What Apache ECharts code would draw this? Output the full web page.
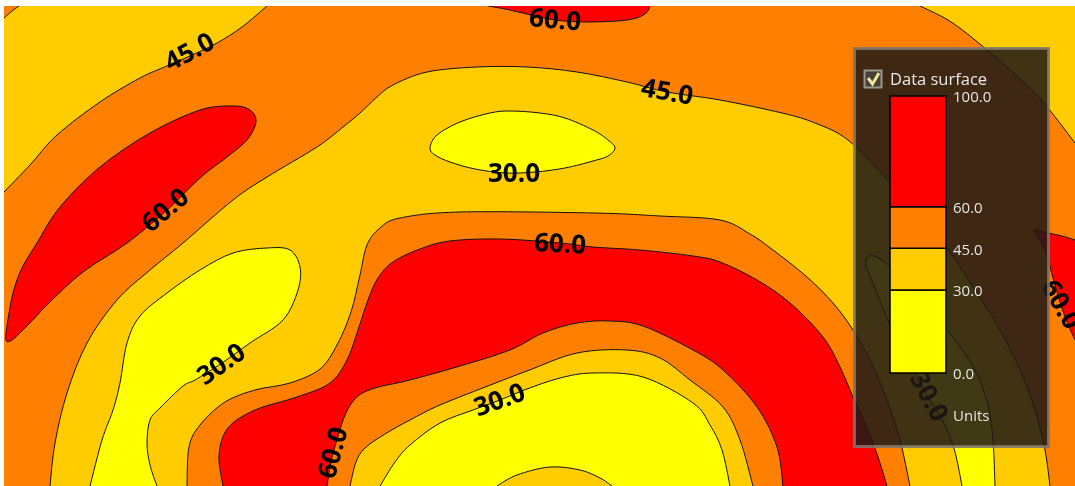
<!DOCTYPE html>
<html><head><meta charset="utf-8">
<script src="https://cdn.jsdelivr.net/npm/echarts@6/dist/echarts.min.js"></script>
<style>html,body{margin:0;padding:0;background:#fff}#c{width:1075px;height:486px}</style>
</head><body><div id="c"></div>
<script>
// ---- contour levels and band colours ----
const levels = [0, 30, 45, 60, 100];
const bandColors = ['#FFFF00', '#FFCC00', '#FF8000', '#FF0000'];
const legendTicks = [0, 30, 45, 60, 100];

// ---- contour lines (x, y in plot units) ----
const cCorner = [[4,18],[12,11],[19,6]];
const cA = [[4,192],[30,165],[57,135],[100,102],[140,78],[167,66],[192,55],[217,43],[242,27],[267,6]];
const cB = [[50,486],[55,443],[67,393],[87,343],[117,300],[150,270],[183,243],[233,200],[267,177],[317,147],[343,127],[360,113],[377,97],[393,85],[427,72],[477,67],[527,67],[577,72],[627,82],[667,92],[720,100],[782,113],[815,123],[848,140],[888,180],[915,208],[945,245],[975,290],[1000,330],[1020,370],[1035,410],[1045,450],[1050,486]];
const cD = [[920,6],[948,20],[975,40],[1010,70],[1035,93],[1052,113],[1075,143]];
const cR1 = [[6,340],[7,326],[13,293],[22,268],[37,243],[60,207],[100,167],[150,133],[200,110],[233,106],[250,110],[256,122],[247,140],[227,157],[200,178],[166,211],[127,243],[83,272],[50,302],[27,326],[12,340]];
const cR2 = [[488,6],[505,9],[527,14],[555,20],[587,22],[627,20],[645,14],[650,6]];
const cR3 = [[1075,240],[1062,236],[1048,233],[1034,230],[1040,240],[1047,256],[1053,278],[1060,302],[1067,322],[1075,340]];
const cC = [[187,486],[189,447],[200,425],[225,402],[255,390],[290,383],[320,369],[337,345],[351,312],[360,275],[367,245],[380,228],[400,218],[460,212],[593,213],[660,216],[720,220],[750,234],[773,250],[807,277],[833,303],[853,330],[870,360],[887,400],[900,440],[910,486]];
const cE = [[223,486],[219,455],[228,428],[255,410],[297,397],[330,383],[347,360],[358,330],[368,300],[378,278],[393,262],[420,249],[450,241],[500,239],[560,243],[593,247],[640,250],[693,256],[720,262],[757,280],[790,303],[823,337],[840,367],[853,397],[868,430],[879,460],[887,486]];
const cF = [[327,486],[331,462],[338,436],[346,413],[357,397],[375,388],[410,380],[460,366],[510,350],[543,333],[577,323],[610,321],[643,326],[693,350],[723,370],[757,407],[777,447],[783,486]];
const cG = [[350,486],[356,462],[365,448],[385,434],[410,420],[440,405],[493,384],[527,371],[577,353],[627,350],[660,358],[690,380],[723,407],[740,440],[753,486]];
const cH = [[380,486],[395,462],[410,445],[440,423],[473,410],[500,400],[527,389],[560,378],[593,373],[643,377],[693,403],[710,425],[722,450],[730,486]];
const cI = [[497,486],[517,475],[550,467],[580,470],[600,478],[612,486]];
const cY1 = [[90,486],[102,440],[113,410],[120,383],[127,343],[140,316],[167,293],[200,270],[233,253],[267,248],[290,250],[300,267],[298,290],[283,320],[250,343],[222,363],[195,380],[183,386],[160,408],[150,420],[147,443],[150,465],[157,486]];
const cY2 = [[430,148],[437,135],[460,122],[490,113],[510,111],[540,113],[565,118],[593,130],[608,140],[615,148],[608,156],[593,161],[565,168],[535,172],[505,173],[475,169],[450,162],[435,155]];
const cY3 = [[962,486],[955,452],[945,425],[930,400],[910,365],[890,325],[875,288],[866,265],[870,256],[882,260],[903,280],[928,307],[955,340],[975,370],[988,405],[993,440],[995,486]];

// contour label anchors, angles and texts
const labelAnchors = [[190,53],[166,211],[555,21],[667,93],[514,175],[560,245],[222,365],[500,401],[334,453],[1060,305],[928,397]];
const labelAngles  = [28, 40, -5, -10, 0, -3, 35, 20, 75, -60, -62];
const labelTexts   = ['45.0','60.0','60.0','45.0','30.0','60.0','30.0','30.0','60.0','60.0','30.0'];

const contours = {corner:cCorner, A:cA, B:cB, D:cD, R1:cR1, R2:cR2, R3:cR3, C:cC, E:cE, F:cF, G:cG, H:cH, I:cI, Y1:cY1, Y2:cY2, Y3:cY3};
const closedContours = {R1:true, Y2:true};

// filled regions, painted in order (band index into bandColors)
const regions = [
  {band:2, parts:['corner',[4,6]]},
  {band:2, parts:['B',[1075,486],'D-','A-',[4,486]]},
  {band:3, parts:['R1']},
  {band:3, parts:['R2']},
  {band:3, parts:['R3']},
  {band:2, parts:['C']},
  {band:0, parts:['Y1']},
  {band:0, parts:['Y2']},
  {band:0, parts:['Y3']},
  {band:3, parts:['E']},
  {band:2, parts:['F']},
  {band:1, parts:['G']},
  {band:0, parts:['H']},
  {band:1, parts:['I']}
];
const lineNames = Object.keys(contours);

function f(v){return v.toFixed(2);}
function crSegs(P, closed){
  const n=P.length; let d='';
  const get=i=>closed?P[(i+n)%n]:P[Math.max(0,Math.min(n-1,i))];
  const segs=closed?n:n-1;
  for(let i=0;i<segs;i++){
    const p0=get(i-1),p1=get(i),p2=get(i+1),p3=get(i+2);
    const c1=[p1[0]+(p2[0]-p0[0])/6,p1[1]+(p2[1]-p0[1])/6];
    const c2=[p2[0]-(p3[0]-p1[0])/6,p2[1]-(p3[1]-p1[1])/6];
    d+='C'+f(c1[0])+' '+f(c1[1])+' '+f(c2[0])+' '+f(c2[1])+' '+f(p2[0])+' '+f(p2[1]);
  }
  return d;
}
function contourPx(api,name){
  const rev=name.endsWith('-'); const key=rev?name.slice(0,-1):name;
  let pts=contours[key].slice(); if(rev) pts.reverse();
  return {P:pts.map(p=>api.coord(p)), closed:!!closedContours[key]};
}
function regionPath(api,parts){
  let d=''; let started=false;
  for(const part of parts){
    if(typeof part==='string'){
      const {P,closed}=contourPx(api,part);
      d+=(started?'L':'M')+f(P[0][0])+' '+f(P[0][1]); started=true;
      d+=crSegs(P,closed);
    } else {
      const c=api.coord(part); d+='L'+f(c[0])+' '+f(c[1]);
    }
  }
  return d+'Z';
}

const legendBands = levels.slice(0,-1).map((lo,i)=>[lo,levels[i+1]]);

const chart = echarts.init(document.getElementById('c'), null, {renderer:'canvas'});
chart.setOption({
  animation:false,
  grid:[
    {left:4, top:6, right:0, bottom:0, show:true, backgroundColor:bandColors[1], borderWidth:0},
    {left:890, top:96, width:56, height:277, show:false}
  ],
  xAxis:[
    {type:'value', min:4, max:1075, show:false, gridIndex:0},
    {type:'value', min:0, max:1, show:false, gridIndex:1}
  ],
  yAxis:[
    {type:'value', min:6, max:486, inverse:true, show:false, gridIndex:0},
    {type:'value', min:0, max:100, show:false, gridIndex:1}
  ],
  series:[
    {type:'custom', name:'fills', xAxisIndex:0, yAxisIndex:0, z:1, silent:true, clip:true,
     data:regions.map(()=>[500,200]),
     renderItem:(params,api)=>{
       const r=regions[params.dataIndex];
       return {type:'path', shape:{pathData:regionPath(api,r.parts)}, style:{fill:bandColors[r.band], stroke:null}};
     }},
    {type:'custom', name:'lines', xAxisIndex:0, yAxisIndex:0, z:2, silent:true, clip:true,
     data:lineNames.map(()=>[500,200]),
     renderItem:(params,api)=>{
       const name=lineNames[params.dataIndex];
       const {P,closed}=contourPx(api,name);
       let d='M'+f(P[0][0])+' '+f(P[0][1])+crSegs(P,closed)+(closed?'Z':'');
       return {type:'path', shape:{pathData:d}, style:{fill:null, stroke:'#111', lineWidth:1}};
     }},
    {type:'custom', name:'labels', xAxisIndex:0, yAxisIndex:0, z:3, silent:true, clip:true,
     data:labelAnchors,
     renderItem:(params,api)=>{
       const i=params.dataIndex; const c=api.coord(labelAnchors[i]);
       return {type:'text', x:c[0], y:c[1], rotation:labelAngles[i]*Math.PI/180,
         style:{text:labelTexts[i], fill:'#000', fontSize:26, fontWeight:'bold', fontFamily:'Open Sans', align:'center', verticalAlign:'middle'}};
     }},
    {type:'custom', name:'colorbar', xAxisIndex:1, yAxisIndex:1, z:20, silent:true,
     data:legendBands,
     renderItem:(params,api)=>{
       const b=legendBands[params.dataIndex];
       const p1=api.coord([0,b[1]]), p2=api.coord([1,b[0]]);
       return {type:'rect', shape:{x:p1[0],y:p1[1],width:p2[0]-p1[0],height:p2[1]-p1[1]},
         style:{fill:bandColors[params.dataIndex], stroke:'#000', lineWidth:1.5}};
     }},
    {type:'custom', name:'ticks', xAxisIndex:1, yAxisIndex:1, z:21, silent:true,
     data:legendTicks.map(v=>[1,v]),
     renderItem:(params,api)=>{
       const v=legendTicks[params.dataIndex]; const c=api.coord([1,v]);
       return {type:'text', x:c[0]+7, y:c[1]+2,
         style:{text:v.toFixed(1), fill:'#e4e4e4', fontSize:15, fontFamily:'Open Sans', align:'left', verticalAlign:'middle'}};
     }}
  ],
  graphic:[
    {type:'rect', z:10, silent:true, shape:{x:854.5,y:48.5,width:194,height:398}, style:{fill:'rgba(32,26,22,0.86)', stroke:'rgba(125,120,110,0.85)', lineWidth:3}},
    {type:'rect', z:11, silent:true, shape:{x:864.5,y:70.5,width:17,height:17}, style:{fill:'rgba(70,64,52,1)', stroke:'#9a968c', lineWidth:2}},
    {type:'polyline', z:12, silent:true, shape:{points:[[868,78],[872.5,84],[879,73]]}, style:{stroke:'#ece49a', lineWidth:3, fill:null}},
    {type:'text', z:12, silent:true, x:890, y:80, style:{text:'Data surface', fill:'#e8e8e8', fontSize:16.5, fontFamily:'Open Sans', verticalAlign:'middle'}},
    {type:'text', z:12, silent:true, x:953, y:417, style:{text:'Units', fill:'#e4e4e4', fontSize:15, fontFamily:'Open Sans', verticalAlign:'middle'}}
  ]
});
</script></body></html>
